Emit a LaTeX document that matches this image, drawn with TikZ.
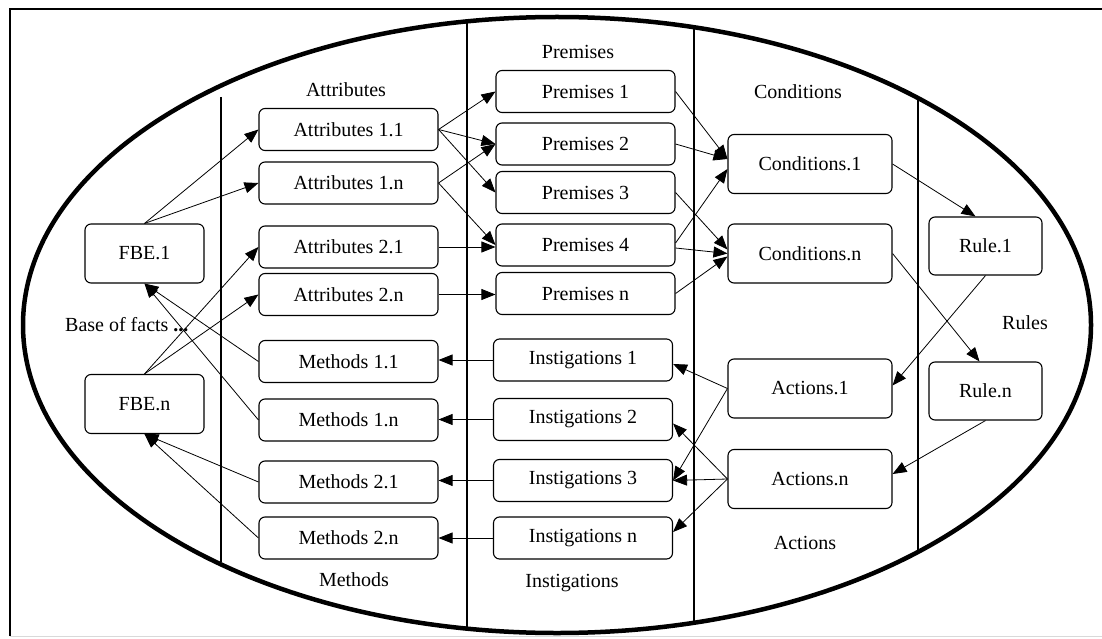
\documentclass[tikz,border=0pt]{standalone}
\usepackage{fontspec}
\setmainfont{Liberation Serif}
\usetikzlibrary{arrows.meta,calc}
\begin{document}
\begin{tikzpicture}[x=1pt,y=-1pt,
  every node/.style={font=\fontsize{20}{24}\selectfont},
  box/.style={draw,rounded corners=6pt,line width=1.1pt,inner sep=0pt},
  sbox/.style={box,minimum width=179pt,minimum height=42pt},
  mbox/.style={box,minimum width=164pt,minimum height=59pt},
  fbox/.style={box,minimum width=119pt,minimum height=59pt},
  rbox/.style={box,minimum width=113pt,minimum height=58pt},
  lab/.style={inner sep=0pt},
  conn/.style={line width=0.8pt,-{Triangle[length=14pt,width=11pt]}},
  sep/.style={line width=1.1pt}]
\useasboundingbox (0,0) rectangle (1102,639);
\fill[white] (0,0) rectangle (1102,639);
% frame
\draw[line width=2pt] (10,636) -- (10,9) -- (1102,9);
\draw[line width=1pt,black!15] (10,636) -- (1102,636);
% ellipse
\draw[line width=4.5pt] (557,325) ellipse [x radius=534, y radius=308];
% separators
\draw[sep] (221,97) -- (221,562);
\draw[sep] (467,20) -- (467,628);
\draw[sep] (694,27) -- (694,621);
\draw[sep] (918,97) -- (918,552);
% labels
\node[lab] (lattr) at (346,90) {Attributes};
\node[lab] (lprem) at (578,52) {Premises};
\node[lab] (lcond) at (798,92) {Conditions};
\node[lab] (lrule) at (1025,323) {Rules};
\node[lab] (lact) at (805,543) {Actions};
\node[lab] (linst) at (572,583) {Instigations};
\node[lab] (lmeth) at (354,580) {Methods};
\node[lab,anchor=west] (lbase) at (65,325) {Base of facts \textbf{...}};
% boxes
\node[fbox] (fbe1) at (144.5,253.5) {FBE.1};
\node[fbox] (fben) at (144.5,404) {FBE.n};
\node[sbox] (a11) at (348.5,129.5) {Attributes 1.1};
\node[sbox] (a1n) at (348.5,183) {Attributes 1.n};
\node[sbox] (a21) at (348.5,247) {Attributes 2.1};
\node[sbox] (a2n) at (348.5,294.5) {Attributes 2.n};
\node[sbox] (m11) at (348.5,361.5) {Methods 1.1};
\node[sbox] (m1n) at (348.5,420) {Methods 1.n};
\node[sbox] (m21) at (348.5,482) {Methods 2.1};
\node[sbox] (m2n) at (348.5,538) {Methods 2.n};
\node[sbox] (p1) at (585.5,91.5) {Premises 1};
\node[sbox] (p2) at (585.5,144) {Premises 2};
\node[sbox] (p3) at (585.5,192.5) {Premises 3};
\node[sbox] (p4) at (585.5,245) {Premises 4};
\node[sbox] (pn) at (585.5,293.5) {Premises n};
\node[sbox] (i1) at (583,360) {Instigations 1};
\node[sbox] (i2) at (583,419.5) {Instigations 2};
\node[sbox] (i3) at (583,480.5) {Instigations 3};
\node[sbox] (in) at (583,538) {Instigations n};
\node[mbox] (c1) at (810,164) {Conditions.1};
\node[mbox] (cn) at (810,253.5) {Conditions.n};
\node[mbox] (ac1) at (810,388.5) {Actions.1};
\node[mbox] (acn) at (810,479) {Actions.n};
\node[rbox] (r1) at (985.5,246) {Rule.1};
\node[rbox] (rn) at (985.5,391) {Rule.n};
% FBE -> attributes
\draw[conn] (fbe1.north) -- (a11.west);
\draw[conn] (fbe1.north) -- (a1n.west);
\draw[conn] (fben.north) -- (a21.west);
\draw[conn] (fben.north) -- (a2n.west);
% methods -> FBE
\draw[conn] (m11.west) -- (fbe1.south);
\draw[conn] (m1n.west) -- (fbe1.south);
\draw[conn] (m21.west) -- (fben.south);
\draw[conn] (m2n.west) -- (fben.south);
% attributes -> premises
\draw[conn] (a11.east) -- (p1.west);
\draw[conn] (a11.east) -- (p2.west);
\draw[conn] (a11.east) -- (p3.west);
\draw[conn] (a1n.east) -- (p2.west);
\draw[conn] (a1n.east) -- (p4.west);
\draw[conn] (a21.east) -- (a21.east -| p4.west);
\draw[conn] (a2n.east) -- (a2n.east -| pn.west);
% premises -> conditions
\draw[conn] (p1.east) -- ($(c1.west)+(0,-5)$);
\draw[conn] (p2.east) -- ($(c1.west)+(0,-5)$);
\draw[conn] ($(p4.east)+(0,-2)$) -- ($(c1.west)+(0,5)$);
\draw[conn] (p3.east) -- ($(cn.west)+(0,-4)$);
\draw[conn] ($(p4.east)+(0,3)$) -- (cn.west);
\draw[conn] (pn.east) -- ($(cn.west)+(0,3)$);
% conditions -> rules
\draw[conn] (c1.east) -- ($(r1.north)+(-10,0)$);
\draw[conn] (cn.east) -- ($(rn.north)+(-6,0)$);
% rules -> actions
\draw[conn] (r1.south) -- ($(ac1.east)+(0,-3)$);
\draw[conn] (rn.south) -- ($(acn.east)+(0,-5)$);
% actions -> instigations
\draw[conn] (ac1.west) -- ($(i1.east)+(0,4)$);
\draw[conn] (ac1.west) -- (i3.east);
\draw[conn] (acn.west) -- ($(i2.east)+(0,4)$);
\draw[conn] (acn.west) -- (i3.east);
\draw[conn] (acn.west) -- ($(in.east)+(0,-6)$);
% instigations -> methods
\draw[conn] (i1.west) -- (i1.west -| m11.east);
\draw[conn] (i2.west) -- (i2.west -| m1n.east);
\draw[conn] (i3.west) -- (i3.west -| m21.east);
\draw[conn] (in.west) -- (in.west -| m2n.east);
\end{tikzpicture}
\end{document}
